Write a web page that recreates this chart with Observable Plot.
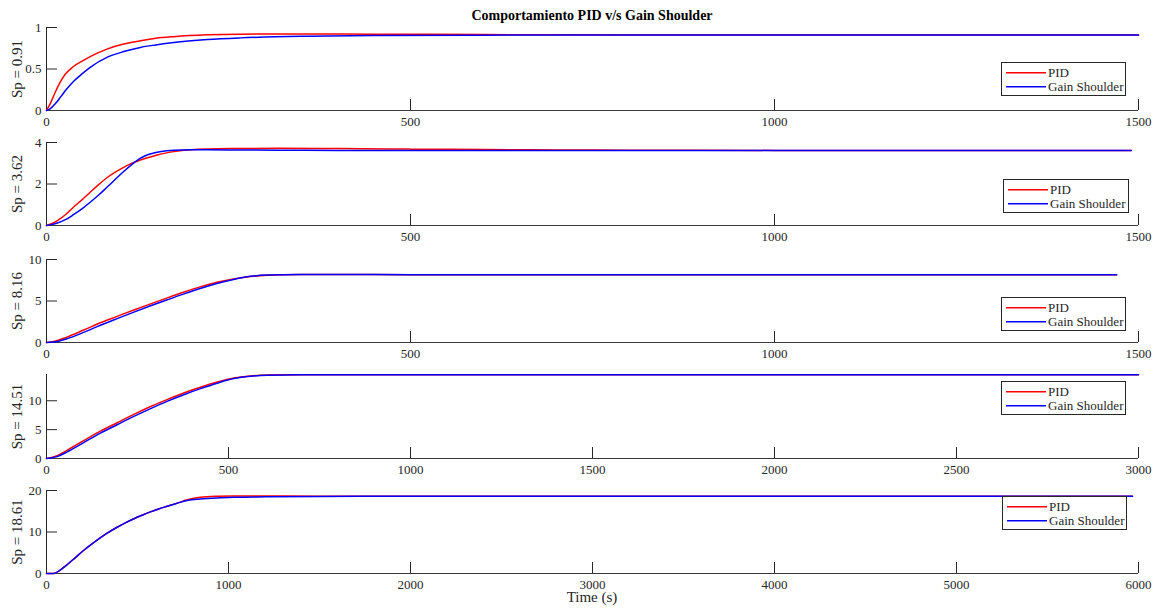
<!DOCTYPE html>
<html>
<head>
<meta charset="utf-8">
<script src="https://cdn.jsdelivr.net/npm/d3@7"></script>
<script src="https://cdn.jsdelivr.net/npm/@observablehq/plot@0.6"></script>
<style>
  html, body { margin: 0; padding: 0; background: #fff; }
  body { font-family: "Liberation Serif", "Times New Roman", serif; color: #262626; }
  #root { position: relative; width: 1156px; height: 613px; overflow: hidden; }
  .panel { position: absolute; left: 0; }
  .title { position: absolute; left: 0; width: 1184px; text-align: center; font-weight: bold; font-size: 14px; line-height: 14px; color: #000; }
  .xlabel { position: absolute; left: 0; width: 1184px; text-align: center; font-size: 15px; line-height: 12px; }
  .legend { position: absolute; border: 1px solid #262626; background: #fff; box-sizing: border-box; }
  .legend svg { position: absolute; left: 0; top: 0; overflow: visible; }
</style>
</head>
<body>
<div id="root"></div>
<script>
// ---------- data ----------
const chartTitle = "Comportamiento PID v/s Gain Shoulder";
const xAxisLabel = "Time (s)";
const seriesNames = ["PID", "Gain Shoulder"];
const seriesColors = ["#ff0000", "#0000ff"];
const spLabels = ["Sp = 0.91", "Sp = 3.62", "Sp = 8.16", "Sp = 14.51", "Sp = 18.61"];

const xMax = [1500, 1500, 1500, 3000, 6000];
const yMax = [1, 4, 10, 14.55, 20];
const xTicksA = [0, 500, 1000, 1500];
const xTicksB = [0, 500, 1000, 1500, 2000, 2500, 3000];
const xTicksC = [0, 1000, 2000, 3000, 4000, 5000, 6000];
const yTicks1 = [0, 0.5, 1];
const yTicks2 = [0, 2, 4];
const yTicks3 = [0, 5, 10];
const yTicks4 = [0, 5, 10];
const yTicks5 = [0, 10, 20];

// Panel 1 (Sp = 0.91)
const t1   = [0, 5, 12, 20, 26, 37, 50, 60, 83, 106, 129, 150, 175, 221, 266, 358, 450, 600, 800, 1000, 1500];
const pid1 = [0, 0.08, 0.22, 0.36, 0.44, 0.53, 0.60, 0.65, 0.74, 0.80, 0.84, 0.87, 0.89, 0.912, 0.92, 0.922, 0.92, 0.915, 0.91, 0.91, 0.91];
const gs1  = [0, 0.02, 0.08, 0.17, 0.24, 0.35, 0.45, 0.52, 0.64, 0.71, 0.76, 0.79, 0.82, 0.855, 0.875, 0.895, 0.903, 0.908, 0.91, 0.91, 0.91];

// Panel 2 (Sp = 3.62)
const t2   = [0, 5, 15, 26, 37, 50, 60, 72, 83, 95, 106, 120, 129, 140, 152, 165, 175, 198, 221, 266, 320, 400, 500, 600, 700, 800, 1000, 1200, 1490];
const pid2 = [0, 0.06, 0.24, 0.52, 0.88, 1.28, 1.6, 1.98, 2.3, 2.58, 2.8, 3.04, 3.15, 3.28, 3.4, 3.5, 3.56, 3.65, 3.69, 3.71, 3.72, 3.71, 3.68, 3.66, 3.64, 3.63, 3.62, 3.62, 3.62];
const gs2  = [0, 0.03, 0.12, 0.28, 0.52, 0.84, 1.12, 1.48, 1.84, 2.24, 2.6, 3.02, 3.24, 3.42, 3.53, 3.6, 3.63, 3.65, 3.65, 3.64, 3.63, 3.62, 3.62, 3.62, 3.62, 3.62, 3.62, 3.62, 3.62];

// Panel 3 (Sp = 8.16)
const t3   = [0, 10, 28, 51, 74, 97, 120, 143, 166, 189, 211, 234, 257, 280, 303, 349, 400, 500, 700, 1000, 1470];
const pid3 = [0, 0.12, 0.65, 1.5, 2.38, 3.15, 3.92, 4.65, 5.38, 6.08, 6.7, 7.25, 7.65, 7.95, 8.1, 8.19, 8.19, 8.17, 8.16, 8.16, 8.16];
const gs3  = [0, 0.05, 0.45, 1.22, 2.08, 2.88, 3.66, 4.42, 5.15, 5.86, 6.5, 7.1, 7.6, 7.97, 8.14, 8.2, 8.19, 8.17, 8.16, 8.16, 8.16];

// Panel 4 (Sp = 14.51)
const t4   = [0, 29, 57, 102, 148, 194, 240, 286, 331, 377, 423, 469, 515, 560, 606, 700, 900, 1500, 2000, 3000];
const pid4 = [0, 0.5, 1.45, 3.1, 4.75, 6.2, 7.65, 9.0, 10.2, 11.35, 12.35, 13.25, 13.95, 14.3, 14.45, 14.52, 14.51, 14.51, 14.51, 14.51];
const gs4  = [0, 0.32, 1.15, 2.75, 4.4, 5.85, 7.3, 8.65, 9.9, 11.05, 12.1, 13.05, 13.85, 14.25, 14.42, 14.5, 14.51, 14.51, 14.51, 14.51];

// Panel 5 (Sp = 18.61)
const t5   = [0, 40, 77, 113, 160, 205, 250, 297, 340, 388, 430, 480, 525, 571, 620, 663, 718, 773, 846, 938, 1029, 1200, 1500, 2000, 3000, 5967];
const pid5 = [0, 0, 0.9, 2.1, 3.9, 5.6, 7.15, 8.65, 9.9, 11.15, 12.15, 13.2, 14.05, 14.85, 15.6, 16.2, 16.95, 17.75, 18.38, 18.63, 18.7, 18.68, 18.64, 18.62, 18.61, 18.61];
const gs5  = [0, 0, 0.9, 2.1, 3.9, 5.6, 7.15, 8.65, 9.9, 11.15, 12.15, 13.2, 14.05, 14.85, 15.6, 16.2, 16.95, 17.6, 17.95, 18.2, 18.35, 18.47, 18.56, 18.6, 18.61, 18.61];

// ---------- build ----------
const panels = [
  {t: t1, pid: pid1, gs: gs1, xTicks: xTicksA, yTicks: yTicks1},
  {t: t2, pid: pid2, gs: gs2, xTicks: xTicksA, yTicks: yTicks2},
  {t: t3, pid: pid3, gs: gs3, xTicks: xTicksA, yTicks: yTicks3},
  {t: t4, pid: pid4, gs: gs4, xTicks: xTicksB, yTicks: yTicks4},
  {t: t5, pid: pid5, gs: gs5, xTicks: xTicksC, yTicks: yTicks5}
];
// layout: axes top / bottom (px) and legend box
const axTop = [27, 142, 259, 374, 490];
const axBot = [110, 225, 342, 458, 573];
const legPos = [[1001, 62, 125], [1003, 179, 126], [1001, 297, 125], [1001, 381, 125], [1002, 496, 125]];

const root = document.getElementById("root");
const MT = 6, MB = 30, ML = 46, MR = 18;
const axisColor = "#262626";
const fontFam = '"Liberation Serif", "Times New Roman", serif';
const svgNS = "http://www.w3.org/2000/svg";

panels.forEach((p, i) => {
  const rowsPid = p.t.map((t, j) => ({t, v: p.pid[j], s: seriesNames[0]}));
  const rowsGs = p.t.map((t, j) => ({t, v: p.gs[j], s: seriesNames[1]}));
  const h = axBot[i] - axTop[i];
  const chart = Plot.plot({
    width: 1156,
    height: h + MT + MB,
    marginLeft: ML, marginRight: MR, marginTop: MT, marginBottom: MB,
    style: {fontFamily: fontFam, fontSize: "13px", color: axisColor, background: "transparent", overflow: "visible"},
    x: {domain: [0, xMax[i]]},
    y: {domain: [0, yMax[i]]},
    marks: [
      Plot.axisX({ticks: p.xTicks, tickSize: -11, tickPadding: 17, label: null, stroke: axisColor, tickFormat: d => String(d)}),
      Plot.axisY({ticks: p.yTicks, tickSize: -11, tickPadding: 16, label: null, stroke: axisColor, tickFormat: d => String(d)}),
      Plot.ruleX([0], {stroke: axisColor}),
      Plot.ruleY([0], {stroke: "#3a3a3a"}),
      Plot.line(rowsPid, {x: "t", y: "v", stroke: seriesColors[0], strokeWidth: 1.5, curve: "monotone-x"}),
      Plot.line(rowsGs, {x: "t", y: "v", stroke: seriesColors[1], strokeWidth: 1.5, curve: "monotone-x"}),
      Plot.text([spLabels[i]], {frameAnchor: "left", rotate: -90, dx: -29, fontSize: 15, fill: axisColor, textAnchor: "middle"})
    ]
  });
  chart.classList.add("panel");
  chart.style.top = (axTop[i] - MT) + "px";
  root.appendChild(chart);

  // legend box (HTML container with a small inline SVG)
  const [lx, ly, lw] = legPos[i];
  const leg = document.createElement("div");
  leg.className = "legend";
  leg.style.left = lx + "px";
  leg.style.top = ly + "px";
  leg.style.width = lw + "px";
  leg.style.height = "34px";
  const s = document.createElementNS(svgNS, "svg");
  s.setAttribute("width", lw - 2);
  s.setAttribute("height", 32);
  seriesNames.forEach((name, k) => {
    const cy = 9.7 + k * 14;
    const ln = document.createElementNS(svgNS, "line");
    ln.setAttribute("x1", 4); ln.setAttribute("x2", 44);
    ln.setAttribute("y1", cy); ln.setAttribute("y2", cy);
    ln.setAttribute("stroke", seriesColors[k]);
    ln.setAttribute("stroke-width", 1.5);
    s.appendChild(ln);
    const tx = document.createElementNS(svgNS, "text");
    tx.setAttribute("x", 46);
    tx.setAttribute("y", cy + 4.4);
    tx.setAttribute("font-family", fontFam);
    tx.setAttribute("font-size", 13);
    tx.setAttribute("fill", axisColor);
    tx.textContent = name;
    s.appendChild(tx);
  });
  leg.appendChild(s);
  root.appendChild(leg);
});

const title = document.createElement("div");
title.className = "title";
title.style.top = "9px";
title.textContent = chartTitle;
root.appendChild(title);

const xl = document.createElement("div");
xl.className = "xlabel";
xl.style.top = "591px";
xl.textContent = xAxisLabel;
root.appendChild(xl);
</script>
</body>
</html>
